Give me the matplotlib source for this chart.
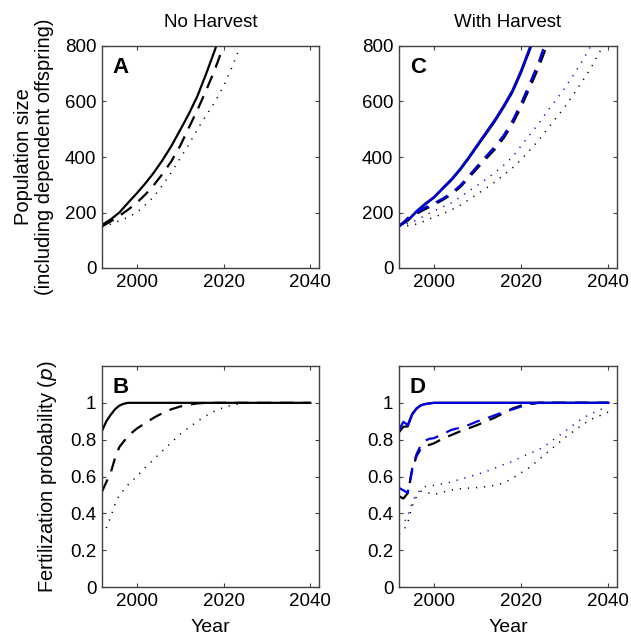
import matplotlib
matplotlib.use("Agg")
import matplotlib.pyplot as plt

plt.rcParams['font.family'] = ['Liberation Sans', 'DejaVu Sans']

# ---------------- data ----------------
# Panel A: population size, no harvest
yrs_pop = [1992, 1994, 1996, 1998, 2000, 2002, 2004, 2006, 2008, 2010, 2012, 2014,
           2016, 2018, 2020, 2022, 2024, 2026, 2028, 2030, 2032, 2034, 2036, 2038, 2040]
A_solid = [155, 175, 200, 235, 269, 305, 345, 390, 440, 497, 555, 620, 700, 785, 880,
           970, 1060, 1160, 1270, 1390, 1520, 1660, 1810, 1980, 2160]
A_dash = [150, 168, 188, 210, 235, 265, 300, 340, 385, 440, 505, 570, 640, 715, 800,
          890, 990, 1100, 1220, 1350, 1500, 1660, 1840, 2040, 2260]
A_dot = [148, 158, 170, 183, 200, 228, 258, 300, 345, 395, 445, 500, 550, 598, 655,
         725, 805, 890, 980, 1080, 1190, 1310, 1440, 1580, 1740]

# Panel C: population size, with harvest (black and blue scenarios)
C_solid_blue = [150, 172, 205, 232, 256, 288, 320, 357, 400, 445, 490, 535, 585, 640, 712,
                795, 880, 970, 1070, 1180, 1300, 1430, 1570, 1730, 1900]
C_solid_black = [152, 170, 202, 229, 253, 285, 316, 353, 395, 440, 484, 529, 579, 633, 704,
                 786, 870, 960, 1060, 1170, 1290, 1420, 1560, 1720, 1890]
C_dash_blue = [150, 180, 200, 218, 233, 250, 270, 297, 332, 368, 403, 438, 478, 530, 593,
               665, 740, 830, 920, 1020, 1130, 1250, 1380, 1520, 1680]
C_dash_black = [152, 174, 195, 212, 228, 245, 265, 291, 325, 360, 394, 428, 468, 518, 580,
                650, 722, 805, 895, 995, 1100, 1215, 1340, 1480, 1630]
C_dot_blue = [150, 160, 172, 190, 205, 220, 235, 255, 277, 298, 320, 344, 370, 400, 440,
              480, 520, 565, 605, 648, 695, 745, 800, 860, 920]
C_dot_black = [150, 152, 158, 170, 183, 195, 209, 226, 246, 267, 288, 310, 335, 360, 390,
               425, 460, 500, 540, 580, 625, 672, 720, 778, 830]

# Panel B: fertilization probability, no harvest
yrs_B_solid = [1992, 1993, 1994, 1995, 1996, 1997, 1998, 2000, 2040]
B_solid = [0.848, 0.90, 0.935, 0.965, 0.985, 0.995, 1.0, 1.0, 1.0]
yrs_B_dash = [1992, 1993, 1994, 1995, 1996, 1997, 1998, 2000, 2002, 2004, 2006, 2008,
              2010, 2012, 2014, 2016, 2040]
B_dash = [0.518, 0.57, 0.62, 0.70, 0.76, 0.79, 0.82, 0.86, 0.89, 0.92, 0.945, 0.965,
          0.98, 0.99, 0.997, 1.0, 1.0]
yrs_B_dot = [1993, 1994, 1995, 1996, 1998, 2000, 2002, 2004, 2006, 2008, 2010, 2012,
             2014, 2016, 2018, 2020, 2022, 2024, 2026, 2040]
B_dot = [0.32, 0.38, 0.45, 0.50, 0.555, 0.60, 0.65, 0.695, 0.74, 0.785, 0.83, 0.865,
         0.90, 0.93, 0.955, 0.975, 0.988, 0.995, 1.0, 1.0]

# Panel D: fertilization probability, with harvest
yrs_D_solid = [1992, 1993, 1994, 1995, 1996, 1997, 1998, 1999, 2000, 2040]
D_solid_blue = [0.853, 0.897, 0.879, 0.940, 0.970, 0.987, 0.994, 0.997, 1.0, 1.0]
D_solid_black = [0.840, 0.870, 0.872, 0.935, 0.968, 0.986, 0.993, 0.997, 1.0, 1.0]
yrs_D_dash = [1992, 1993, 1994, 1995, 1996, 1997, 1998, 1999, 2000, 2002, 2004, 2006,
              2008, 2010, 2012, 2014, 2016, 2018, 2020, 2022, 2024, 2040]
D_dash_blue = [0.538, 0.525, 0.511, 0.640, 0.720, 0.770, 0.795, 0.805, 0.808, 0.830,
               0.853, 0.865, 0.880, 0.900, 0.915, 0.933, 0.950, 0.964, 0.980, 0.993, 1.0, 1.0]
D_dash_black = [0.493, 0.480, 0.510, 0.630, 0.710, 0.750, 0.768, 0.772, 0.780, 0.805,
                0.825, 0.845, 0.862, 0.880, 0.900, 0.920, 0.945, 0.969, 0.985, 0.995, 1.0, 1.0]
yrs_D_dot = [1992, 1993, 1994, 1995, 1996, 1997, 1998, 2000, 2002, 2004, 2006, 2008, 2010,
             2012, 2014, 2016, 2018, 2020, 2022, 2024, 2026, 2028, 2030, 2032, 2034,
             2036, 2038, 2040]
D_dot_blue = [0.331, 0.345, 0.385, 0.457, 0.505, 0.529, 0.545, 0.552, 0.560, 0.570,
              0.585, 0.598, 0.612, 0.628, 0.645, 0.665, 0.682, 0.705, 0.725, 0.745,
              0.775, 0.810, 0.844, 0.880, 0.915, 0.940, 0.962, 0.980]
D_dot_black = [0.290, 0.304, 0.349, 0.439, 0.490, 0.520, 0.515, 0.502, 0.515, 0.527,
               0.533, 0.537, 0.540, 0.545, 0.552, 0.565, 0.590, 0.620, 0.650, 0.690,
               0.730, 0.770, 0.810, 0.845, 0.880, 0.910, 0.930, 0.950]

# ---------------- styling ----------------
BLUE = '#0000e6'
BLACK = '#000000'
DASH = (0, (6, 4))
DOT = (0, (0.8, 4.5))
SPINE = '#404040'

fig = plt.figure(figsize=(6.31, 6.40), dpi=100)
W, H = 631, 640

def make_ax(l, r, t, b):
    return fig.add_axes([l / W, 1 - b / H, (r - l) / W, (b - t) / H])

axA = make_ax(102, 319, 46, 268)
axC = make_ax(399, 617, 46, 268)
axB = make_ax(102, 319, 366, 587)
axD = make_ax(399, 617, 366, 587)

# Panel A
axA.plot(yrs_pop, A_solid, color=BLACK, lw=1.6, ls='-')
axA.plot(yrs_pop, A_dash, color=BLACK, lw=1.6, ls=DASH)
axA.plot(yrs_pop, A_dot, color=BLACK, lw=1.1, ls=DOT)

# Panel C
axC.plot(yrs_pop, C_solid_black, color=BLACK, lw=1.6, ls='-')
axC.plot(yrs_pop, C_solid_blue, color=BLUE, lw=1.6, ls='-')
axC.plot(yrs_pop, C_dash_black, color=BLACK, lw=1.6, ls=DASH)
axC.plot(yrs_pop, C_dash_blue, color=BLUE, lw=1.6, ls=DASH)
axC.plot(yrs_pop, C_dot_black, color=BLACK, lw=1.1, ls=DOT)
axC.plot(yrs_pop, C_dot_blue, color=BLUE, lw=1.1, ls=DOT)

# Panel B
axB.plot(yrs_B_solid, B_solid, color=BLACK, lw=1.6, ls='-')
axB.plot(yrs_B_dash, B_dash, color=BLACK, lw=1.6, ls=DASH)
axB.plot(yrs_B_dot, B_dot, color=BLACK, lw=1.1, ls=DOT)

# Panel D
axD.plot(yrs_D_solid, D_solid_black, color=BLACK, lw=1.6, ls='-')
axD.plot(yrs_D_solid, D_solid_blue, color=BLUE, lw=1.6, ls='-')
axD.plot(yrs_D_dash, D_dash_black, color=BLACK, lw=1.6, ls=DASH)
axD.plot(yrs_D_dash, D_dash_blue, color=BLUE, lw=1.6, ls=DASH)
axD.plot(yrs_D_dot, D_dot_black, color=BLACK, lw=1.1, ls=DOT)
axD.plot(yrs_D_dot, D_dot_blue, color=BLUE, lw=1.1, ls=DOT)

for ax, letter in [(axA, 'A'), (axC, 'C'), (axB, 'B'), (axD, 'D')]:
    ax.set_xlim(1992, 2042)
    ax.set_xticks([2000, 2020, 2040])
    ax.tick_params(direction='in', length=3, width=0.8, color=SPINE,
                   top=True, right=True, labelsize=13.5, pad=4)
    for s in ax.spines.values():
        s.set_color(SPINE)
        s.set_linewidth(1.0)
    ax.text(0.05, 0.95, letter, transform=ax.transAxes, fontsize=16,
            fontweight='bold', va='top', ha='left')

for ax in (axA, axC):
    ax.set_ylim(0, 800)
    ax.set_yticks([0, 200, 400, 600, 800])

for ax in (axB, axD):
    ax.set_ylim(0, 1.2)
    ax.set_yticks([0, 0.2, 0.4, 0.6, 0.8, 1.0])
    ax.set_yticklabels(['0', '0.2', '0.4', '0.6', '0.8', '1'])
    ax.set_xlabel('Year', fontsize=14, labelpad=7)

axA.set_title('No Harvest', fontsize=13.5, pad=14)
axC.set_title('With Harvest', fontsize=13.5, pad=14)
axA.set_ylabel('Population size\n(including dependent offspring)', fontsize=14.5,
               labelpad=8, linespacing=1.1)
axB.set_ylabel('Fertilization probability ($\\it{p}$)', fontsize=14.5, labelpad=8)

fig.savefig('out.png', dpi=100, facecolor='white')
